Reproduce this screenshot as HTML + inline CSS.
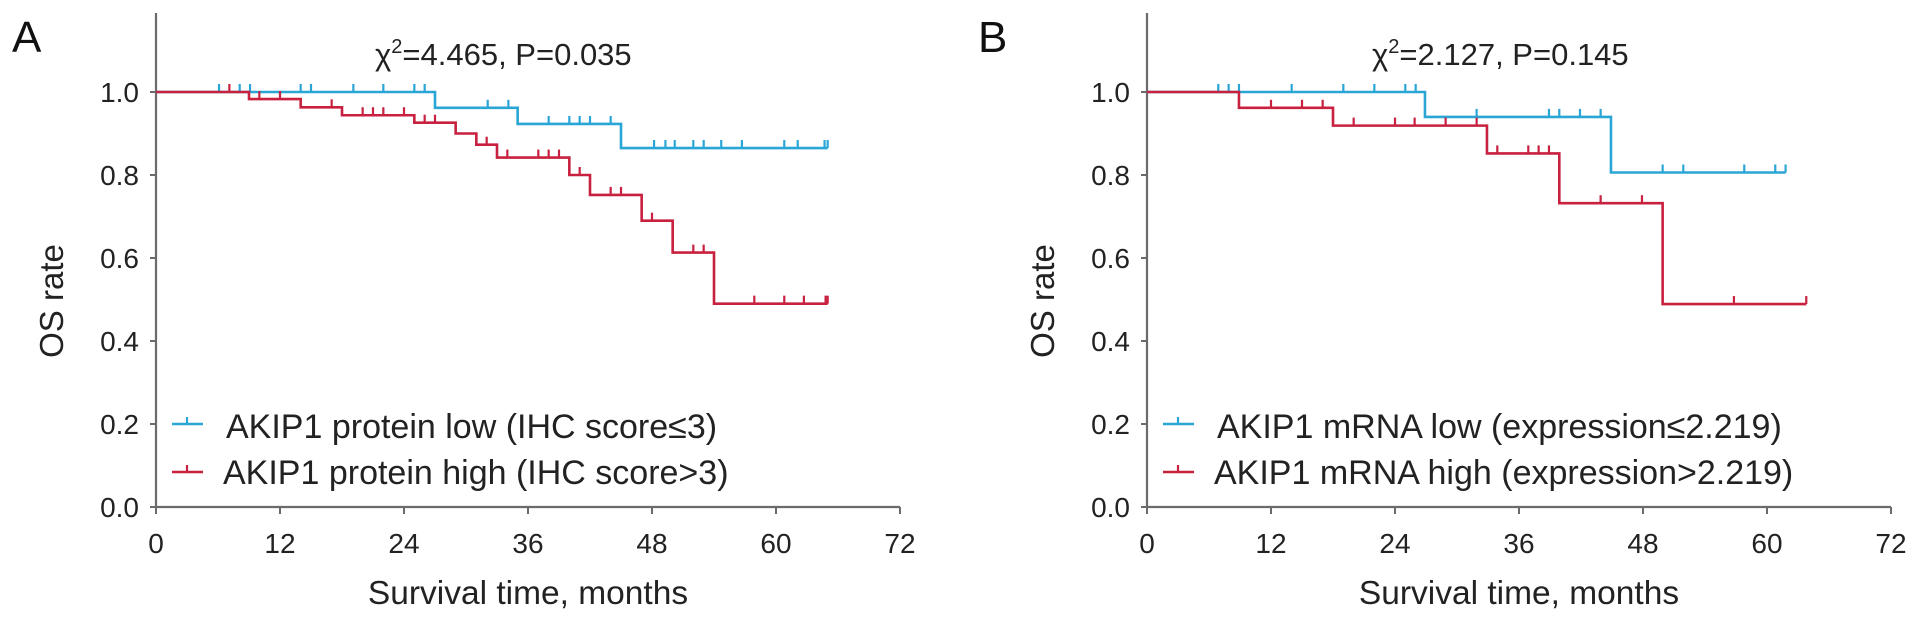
<!DOCTYPE html>
<html><head><meta charset="utf-8"><style>
html,body{margin:0;padding:0;background:#fff;}
svg{display:block;font-family:"Liberation Sans",Arial,sans-serif;}
</style></head><body>
<svg id="chart" width="1913" height="620" viewBox="0 0 1913 620"></svg>
<script>
// Panel A data (months, survival)
const aLowSteps = [[0,1.0],[27,0.962],[35,0.923],[45,0.865]];
const aLowEnd = 65;
const aLowCensor = [6.1,8.1,9.1,14,15,19.1,22,25,26,32.1,34.1,38,40,41,42,44,48.2,49.3,50.2,52,53,54.7,56.7,60.8,62.1,64.7,65];
const aHighSteps = [[0,1.0],[9,0.983],[14,0.963],[18,0.944],[25,0.926],[29,0.90],[31,0.873],[33,0.842],[40,0.80],[42,0.752],[47,0.69],[50,0.613],[54,0.49]];
const aHighEnd = 65;
const aHighCensor = [7.1,10,12,17,20,21,22,24,26,27,32,34,37,38,39,41,44,45,48,52,53,57.9,60.8,62.7,64.8,65];
// Panel B data
const bLowSteps = [[0,1.0],[26.9,0.94],[44.9,0.806]];
const bLowEnd = 61.8;
const bLowCensor = [6.9,7.9,8.9,14,19,22,25,26,31.9,38.9,39.9,41.9,43.9,49.9,51.9,57.8,60.8,61.8];
const bHighSteps = [[0,1.0],[8.9,0.962],[18,0.919],[32.9,0.852],[39.9,0.732],[49.9,0.489]];
const bHighEnd = 63.8;
const bHighCensor = [12,15,17,20,24,25.9,28.9,31.9,33.9,36.9,37.9,38.9,43.9,47.9,56.8,63.8];
const xTicks = [0,12,24,36,48,60,72];
const yTicks = [0.0,0.2,0.4,0.6,0.8,1.0];

const NS = "http://www.w3.org/2000/svg";
const svg = document.getElementById('chart');
const BLUE = "#2aa6d6", RED = "#c8203f", AX = "#6b6b6b";
function mk(tag, attrs, parent){ const e=document.createElementNS(NS,tag); for(const k in attrs) e.setAttribute(k,attrs[k]); (parent||svg).appendChild(e); return e; }

function panel(cfg){
  const g = mk('g',{});
  
  
  const x0=cfg.x0, x1=cfg.x0+744, y0=507, y1=92;
  const xs = m => x0 + m/72*(x1-x0);
  const ys = v => y0 - v*(y0-y1);
  const ya = mk('line',{x1:x0,y1:13,x2:x0,y2:y0,stroke:AX,'stroke-width':2.2},g);
   
  const xa = mk('line',{x1:x0,y1:y0,x2:x1,y2:y0,stroke:AX,'stroke-width':2.2},g);
   
  yTicks.forEach(v=>{
    mk('line',{x1:x0-6,y1:ys(v),x2:x0,y2:ys(v),stroke:AX,'stroke-width':2},g);
    const t = mk('text',{x:x0-17,y:ys(v)+10,'text-anchor':'end','font-size':28,fill:'#222'},g);
    t.textContent = v.toFixed(1);
     
  });
  xTicks.forEach(m=>{
    mk('line',{x1:xs(m),y1:y0,x2:xs(m),y2:y0+7,stroke:AX,'stroke-width':2},g);
    const t = mk('text',{x:xs(m),y:553,'text-anchor':'middle','font-size':28,fill:'#222'},g);
    t.textContent = m;
     
  });
  const xt = mk('text',{x:(x0+x1)/2,y:604,'text-anchor':'middle','font-size':33.5,fill:'#222'},g);
  xt.textContent='Survival time, months';
   
  const yt = mk('text',{x:0,y:0,'text-anchor':'middle','font-size':33,fill:'#222',transform:`translate(${x0-93},301) rotate(-90)`},g);
  yt.textContent='OS rate';
   
  const pl = mk('text',{x:cfg.labelX,y:52,'font-size':44,fill:'#111'},g);
  pl.textContent=cfg.id==='a'?'A':'B';
   
  const st = mk('text',{x:cfg.chiX,y:65,'font-size':31,fill:'#222'},g);
  st.innerHTML = 'χ<tspan dy="-12" font-size="20">2</tspan><tspan dy="12">='+cfg.chi+'</tspan>';
   
  function curve(steps,end,cens,color,name){
    let d = `M${xs(steps[0][0])},${ys(steps[0][1])}`;
    for(let i=1;i<steps.length;i++){ d+=` H${xs(steps[i][0])} V${ys(steps[i][1])}`; }
    d+=` H${xs(end)}`;
    const p = mk('path',{d:d,fill:'none',stroke:color,'stroke-width':2.6},g);
     
    const lvl = m => { let v=steps[0][1]; steps.forEach(s=>{ if(s[0]<=m) v=s[1]; }); return v; };
    cens.forEach(m=>{
      const c = mk('line',{x1:xs(m),y1:ys(lvl(m)),x2:xs(m),y2:ys(lvl(m))-8,stroke:color,'stroke-width':2.2},g);
       
    });
  }
  curve(cfg.low[0],cfg.low[1],cfg.low[2],BLUE,'low');
  curve(cfg.high[0],cfg.high[1],cfg.high[2],RED,'high');
  [[BLUE,cfg.leg[0],424,438],[RED,cfg.leg[1],472,484]].forEach((L,i)=>{
    const lg = mk('g',{},g);
    
    
    mk('line',{x1:x0+16,y1:L[2],x2:x0+47,y2:L[2],stroke:L[0],'stroke-width':2.6},lg);
    mk('line',{x1:x0+31,y1:L[2],x2:x0+31,y2:L[2]-7,stroke:L[0],'stroke-width':2.2},lg);
    const t = mk('text',{x:x0+(i===0?70:67),y:L[3],'font-size':34,fill:'#222'},lg);
    t.textContent = L[1];
  });
}
panel({id:'a',x0:156,labelX:12,chiX:375,chi:'4.465, P=0.035',
  low:[aLowSteps,aLowEnd,aLowCensor],high:[aHighSteps,aHighEnd,aHighCensor],
  leg:['AKIP1 protein low (IHC score≤3)','AKIP1 protein high (IHC score>3)']});
panel({id:'b',x0:1147,labelX:978,chiX:1372,chi:'2.127, P=0.145',
  low:[bLowSteps,bLowEnd,bLowCensor],high:[bHighSteps,bHighEnd,bHighCensor],
  leg:['AKIP1 mRNA low (expression≤2.219)','AKIP1 mRNA high (expression>2.219)']});
</script>
</body></html>
